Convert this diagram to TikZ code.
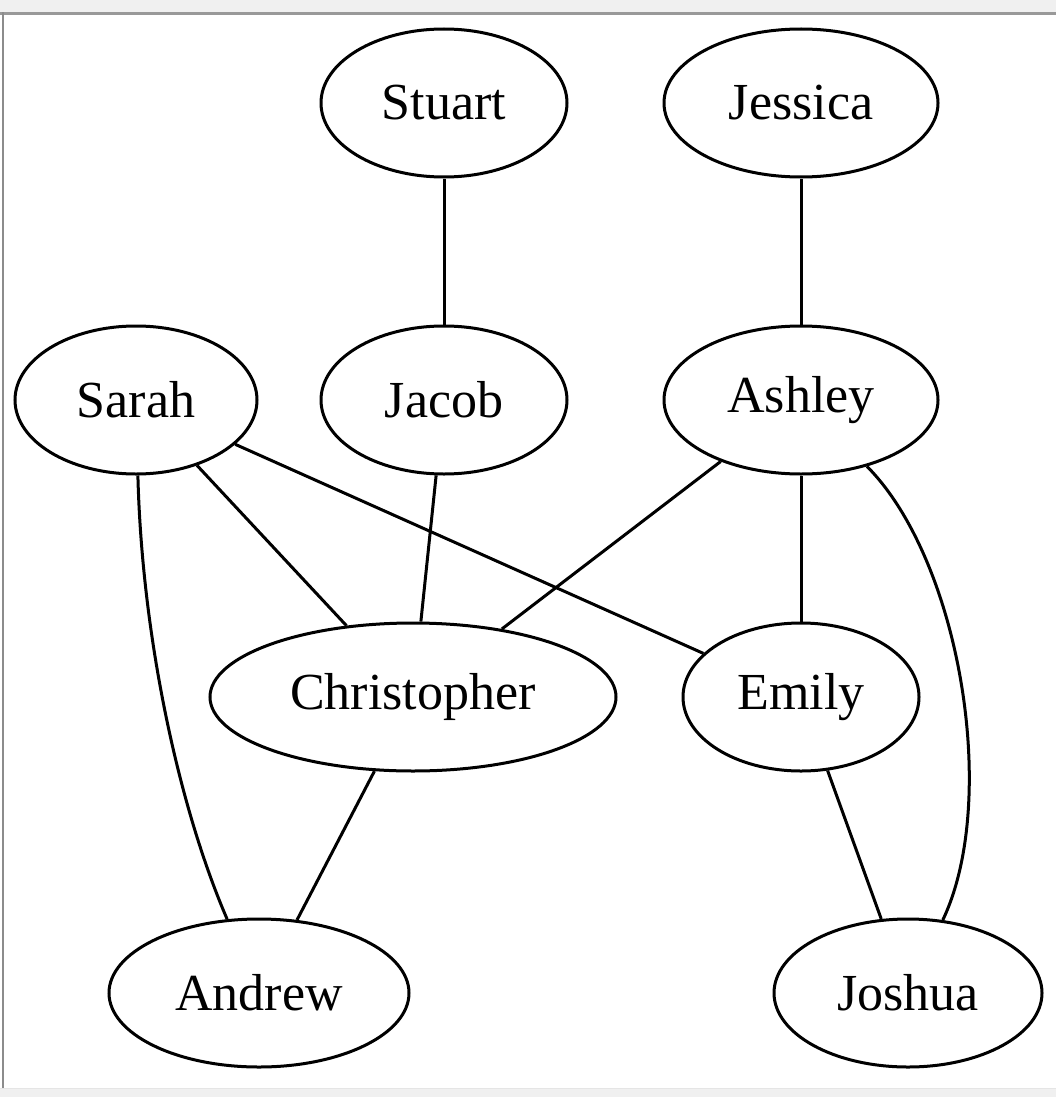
\documentclass[tikz,border=0pt]{standalone}
\usepackage{fontspec}
\setmainfont{Liberation Serif}
\usetikzlibrary{shapes.geometric}
\begin{document}
\begin{tikzpicture}[x=0.5pt,y=-0.5pt,
  person/.style={draw=black,ellipse,line width=1.5pt,inner sep=0pt,
    font=\fontsize{26}{31}\selectfont},
  link/.style={draw=black,line width=1.5pt}]
% frame
\useasboundingbox (0,0) rectangle (1056,1097);
\fill[white] (0,0) rectangle (1056,1097);
\fill[black!6] (0,0) rectangle (1056,12);
\fill[black!40] (0,12) rectangle (1056,15);
\fill[black!45] (2,12) rectangle (4,1088);
\fill[black!6] (0,1088) rectangle (1056,1097);
\draw[white!90!black,line width=0.5pt] (0,1088.5) -- (1056,1088.5);
% nodes
\node[person,minimum width=123pt,minimum height=74pt] (stuart) at (444,103) {Stuart};
\node[person,minimum width=137pt,minimum height=74pt] (jessica) at (801,103) {Jessica};
\node[person,minimum width=121pt,minimum height=74pt] (sarah) at (136,400) {Sarah};
\node[person,minimum width=123pt,minimum height=74pt] (jacob) at (444,400) {Jacob};
\node[person,minimum width=137pt,minimum height=74pt] (ashley) at (801,400) {Ashley};
\node[person,minimum width=203pt,minimum height=74pt] (chris) at (413,697) {Christopher};
\node[person,minimum width=118pt,minimum height=74pt] (emily) at (801,697) {Emily};
\node[person,minimum width=150pt,minimum height=74pt] (andrew) at (259,993) {Andrew};
\node[person,minimum width=134pt,minimum height=74pt] (joshua) at (908,993) {Joshua};
% edges
\draw[link] (stuart) -- (jacob);
\draw[link] (jessica) -- (ashley);
\draw[link] (sarah) -- (chris);
\draw[link] (sarah) -- (emily);
\draw[link] (sarah) .. controls (142,640) and (180,810) .. (andrew);
\draw[link] (jacob) -- (chris);
\draw[link] (ashley) -- (chris);
\draw[link] (ashley) -- (emily);
\draw[link] (ashley) .. controls (960,560) and (1000,800) .. (joshua);
\draw[link] (chris) -- (andrew);
\draw[link] (emily) -- (joshua);
\end{tikzpicture}
\end{document}
